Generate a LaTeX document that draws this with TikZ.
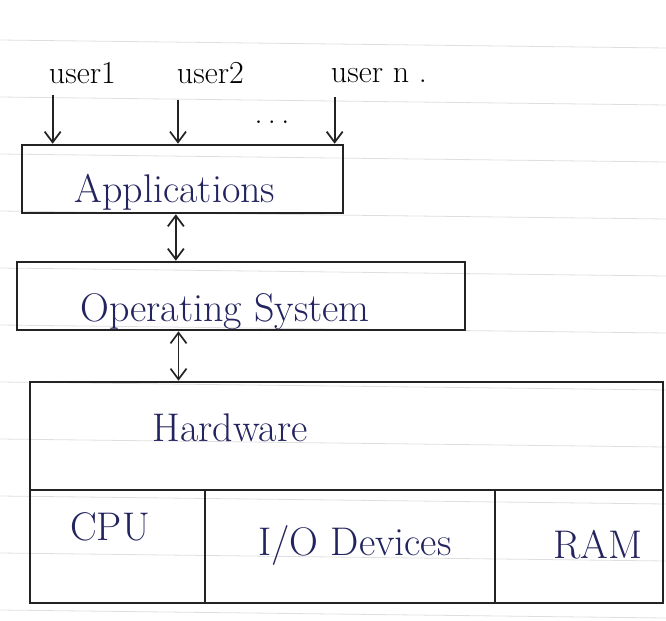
\documentclass[tikz,border=0pt]{standalone}
\usepackage{tikz}
\usetikzlibrary{arrows.meta}

\definecolor{ink}{RGB}{35,35,95}
\definecolor{pencil}{RGB}{35,35,35}

\tikzset{
  layer/.style={draw=pencil,line width=1.9pt,inner sep=0pt},
  lbl/.style={text=ink,font=\fontsize{30}{34}\selectfont},
  usr/.style={text=black,font=\fontsize{24}{28}\selectfont,inner sep=2pt},
  arr/.style={draw=pencil,line width=1.3pt,-{Straight Barb[length=8pt,width=12pt]}},
  dbl/.style={draw=pencil,line width=1.3pt,{Straight Barb[length=8pt,width=12pt]}-{Straight Barb[length=8pt,width=12pt]}}
}

\begin{document}
\begin{tikzpicture}[x=0.75pt,y=-0.75pt]

  % page
  \useasboundingbox (0,0) rectangle (666,620);

  % ruled paper
  \foreach \y in {40,97,...,610}
    \draw[gray!25,line width=0.6pt] (0,\y) -- (666,\y+8);

  % users
  \node[usr,anchor=west] (u1) at (46,73) {user1};
  \node[usr,anchor=west] (u2) at (174,73) {user2};
  \node[usr,anchor=west] (un) at (328,76) {user n .};
  \node[usr] (dots) at (272,122) {.\,.\,.};

  % Applications
  \node[layer,minimum width=240.75pt,minimum height=51pt] (apps) at (182.5,179) {};
  \node[lbl] (appstxt) at (175,192) {Applications};

  % Operating System
  \node[layer,minimum width=336pt,minimum height=51pt] (os) at (241,296) {};
  \node[lbl] (ostxt) at (225,312) {Operating System};

  % Hardware
  \node[layer,minimum width=474.75pt,minimum height=81pt] (hw) at (346.5,436) {};
  \node[lbl] (hwtxt) at (230,428) {Hardware};

  % Hardware parts
  \node[layer,minimum width=131.25pt,minimum height=84.75pt] (cpu) at (117.5,546.5) {};
  \node[layer,minimum width=217.5pt,minimum height=84.75pt] (io) at (350,546.5) {};
  \node[layer,minimum width=126pt,minimum height=84.75pt] (ram) at (579,546.5) {};
  \node[lbl] (cputxt) at (110,527) {CPU};
  \node[lbl] (iotxt) at (355,545) {I/O Devices};
  \node[lbl] (ramtxt) at (598,545) {RAM};

  % users to applications
  \draw[arr] ([shift={(5pt,-6pt)}]u1.south west) -- ([xshift=5pt]u1.south west |- apps.north);
  \draw[arr] ([shift={(3pt,-10pt)}]u2.south west) -- ([xshift=3pt]u2.south west |- apps.north);
  \draw[arr] ([shift={(5pt,-8pt)}]un.south west) -- ([xshift=5pt]un.south west |- apps.north);

  % layers
  \draw[dbl] ([xshift=-5pt]apps.south) -- ([xshift=-5pt]apps.south |- os.north);
  \draw[dbl] ([xshift=-3pt]apps.south |- os.south) -- ([xshift=-3pt]apps.south |- hw.north);

\end{tikzpicture}
\end{document}
